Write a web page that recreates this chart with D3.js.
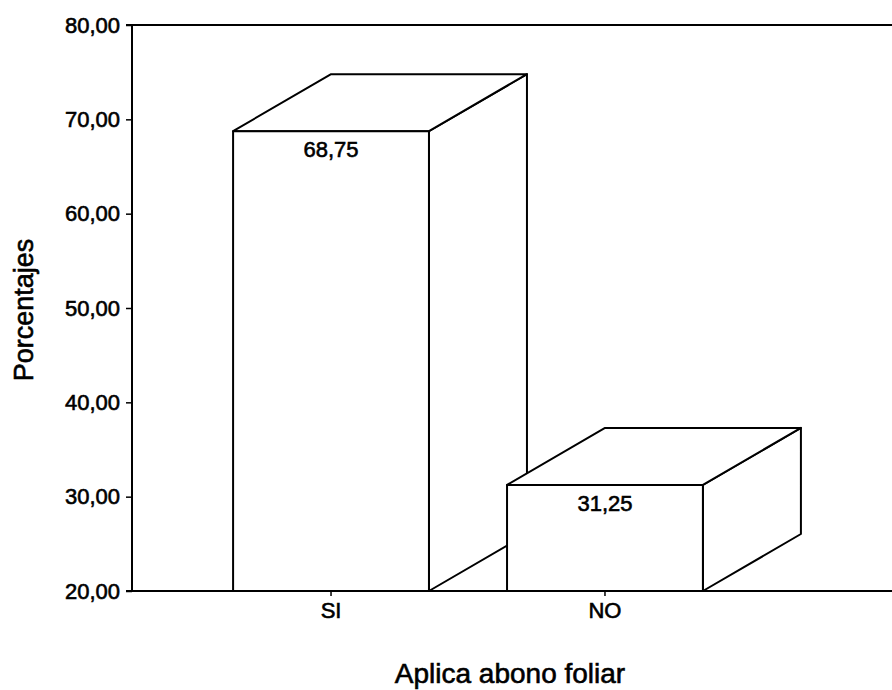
<!DOCTYPE html>
<html>
<head>
<meta charset="utf-8">
<script src="https://cdn.jsdelivr.net/npm/d3@7"></script>
<style>
  body { margin: 0; background: #fff; }
  text { font-family: "Liberation Sans", Arial, sans-serif; fill: #000; stroke: #000; stroke-width: 0.6px; }
</style>
</head>
<body>
<div id="chart"></div>
<script>
// data
const categories = ['SI', 'NO'];
const percentages = [68.75, 31.25];
const valueLabels = ['68,75', '31,25'];
const yTicks = [20, 30, 40, 50, 60, 70, 80];

const width = 892;
const height = 690;
const depth = { dx: 98, dy: -57 };

const svg = d3.select('#chart')
  .append('svg')
  .attr('width', width)
  .attr('height', height)
  .attr('viewBox', `0 0 ${width} ${height}`);

const y = d3.scaleLinear().domain([20, 80]).range([591, 25]);
const x = d3.scaleBand()
  .domain(categories)
  .range([132, 804])
  .paddingInner(0.285)
  .paddingOuter(0.369);

const fmt = (v) => d3.format('.2f')(v).replace('.', ',');

// frame line at the top runs to the right edge
svg.append('line')
  .attr('x1', 126).attr('x2', width)
  .attr('y1', y(80)).attr('y2', y(80))
  .attr('stroke', '#000').attr('stroke-width', 2);

// y axis
const yAxis = svg.append('g')
  .attr('transform', 'translate(132,0)')
  .call(d3.axisLeft(y).tickValues(yTicks).tickFormat(fmt).tickSize(6).tickPadding(6));
yAxis.select('.domain').attr('stroke-width', 2).attr('d', `M0,${y(20)}V${y(80)}`);
yAxis.selectAll('.tick line').attr('stroke-width', 1.5);
yAxis.selectAll('.tick text')
  .attr('font-size', 22)
  .style('font-family', '"Liberation Sans", Arial, sans-serif');

// bars (drawn in order so the later box hides the earlier one)
const bars = svg.append('g');
categories.forEach((c, i) => {
  const x0 = x(c);
  const x1 = x0 + x.bandwidth();
  const yt = y(percentages[i]);
  const yb = y(20);
  const { dx, dy } = depth;
  const g = bars.append('g')
    .attr('fill', '#fff')
    .attr('stroke', '#000')
    .attr('stroke-width', 2)
    .attr('stroke-linejoin', 'round');

  g.append('polygon')
    .attr('points', [[x1, yt], [x1 + dx, yt + dy], [x1 + dx, yb + dy], [x1, yb]].join(' '));
  g.append('polygon')
    .attr('points', [[x0, yt], [x0 + dx, yt + dy], [x1 + dx, yt + dy], [x1, yt]].join(' '));
  g.append('rect')
    .attr('x', x0).attr('y', yt)
    .attr('width', x.bandwidth()).attr('height', yb - yt);

  bars.append('text')
    .attr('x', x0 + x.bandwidth() / 2)
    .attr('y', yt + 26)
    .attr('text-anchor', 'middle')
    .attr('font-size', 22)
    .text(valueLabels[i]);
});

// x axis
const xAxis = svg.append('g')
  .attr('transform', `translate(0,${y(20)})`)
  .call(d3.axisBottom(x).tickSize(5).tickPadding(6));
xAxis.select('.domain').attr('stroke-width', 2).attr('d', `M126,0H${width}`);
xAxis.selectAll('.tick line').attr('stroke-width', 1.5);
xAxis.selectAll('.tick text')
  .attr('font-size', 22)
  .style('font-family', '"Liberation Sans", Arial, sans-serif');

// titles
svg.append('text')
  .attr('x', 510)
  .attr('y', 683)
  .attr('text-anchor', 'middle')
  .attr('font-size', 28)
  .text('Aplica abono foliar');

svg.append('text')
  .attr('transform', 'translate(33,310) rotate(-90)')
  .attr('text-anchor', 'middle')
  .attr('font-size', 27)
  .text('Porcentajes');
</script>
</body>
</html>
